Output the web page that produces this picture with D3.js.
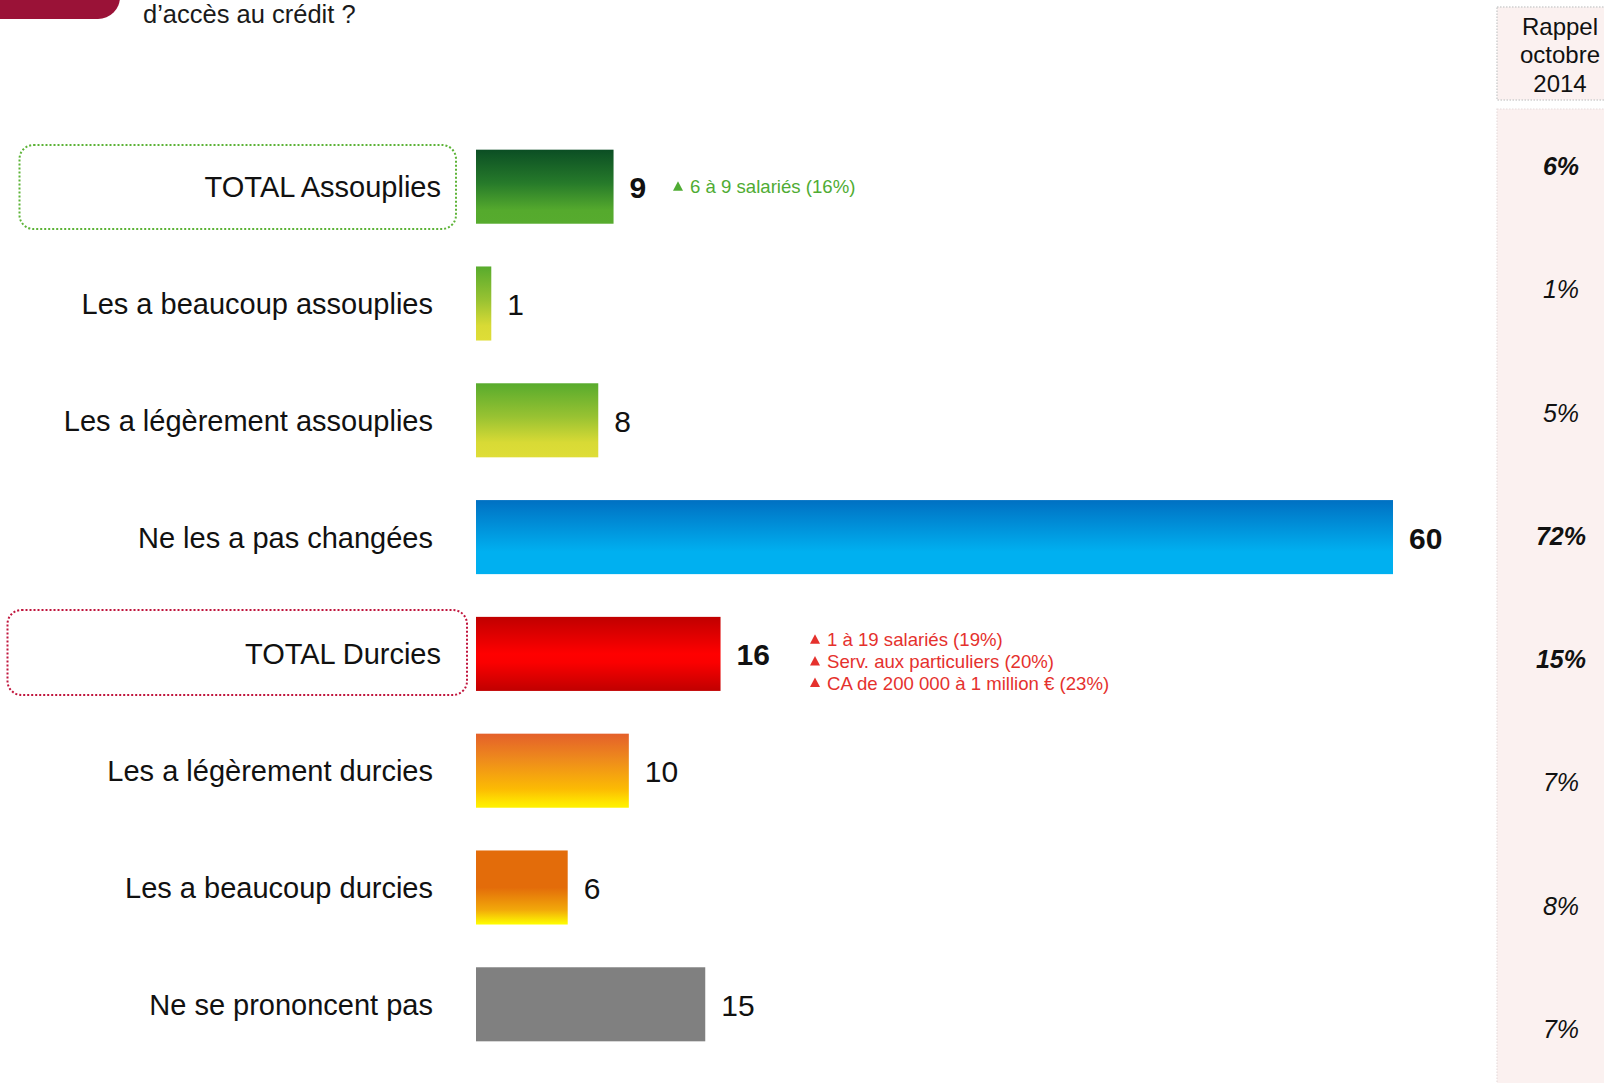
<!DOCTYPE html>
<html>
<head>
<meta charset="utf-8">
<script src="https://cdn.jsdelivr.net/npm/d3@7"></script>
<style>
  html, body { margin: 0; padding: 0; background: #ffffff; }
  svg { display: block; font-family: Arial, "Liberation Sans", sans-serif; }
</style>
</head>
<body>
<svg id="chart" width="1604" height="1083"></svg>
<script>
// Survey answers (%)
const categories = [
  "TOTAL Assouplies",
  "Les a beaucoup assouplies",
  "Les a légèrement assouplies",
  "Ne les a pas changées",
  "TOTAL Durcies",
  "Les a légèrement durcies",
  "Les a beaucoup durcies",
  "Ne se prononcent pas"
];
const values = [9, 1, 8, 60, 16, 10, 6, 15];
// Previous wave, October 2014 (%)
const rappelValues = [6, 1, 5, 72, 15, 7, 8, 7];
// Rows shown in bold (totals and majority answer)
const boldValueRows = [0, 3, 4];
const boldRappelRows = [0, 3, 4];
const totalRows = [0, 4];

// Sub-group highlights
const greenNotes = ["6 à 9 salariés (16%)"];
const redNotes = [
  "1 à 19 salariés (19%)",
  "Serv. aux particuliers (20%)",
  "CA de 200 000 à 1 million € (23%)"
];
const rappelHeader = ["Rappel", "octobre", "2014"];

// Vertical gradient stops for each bar
const barGradients = [
  [[0, "#0b4e24"], [0.45, "#267a2a"], [0.82, "#55aa2d"], [1, "#57ab2e"]],
  [[0, "#58ab2d"], [0.45, "#98c232"], [0.8, "#d8da35"], [1, "#dfdd37"]],
  [[0, "#58ab2d"], [0.45, "#98c232"], [0.8, "#d8da35"], [1, "#dfdd37"]],
  [[0, "#0070c2"], [0.7, "#00b0f0"], [1, "#00b0f0"]],
  [[0, "#c00000"], [0.5, "#ff0000"], [0.62, "#fa0000"], [1, "#c00000"]],
  [[0, "#e4602a"], [0.35, "#ee8b1c"], [0.75, "#fcbb03"], [0.93, "#ffe600"], [1, "#fff200"]],
  [[0, "#e36c0a"], [0.5, "#e36c0a"], [0.8, "#f2a80a"], [1, "#ffff00"]],
  [[0, "#808080"], [1, "#808080"]]
];

const svg = d3.select("#chart");
const defs = svg.append("defs");

barGradients.forEach((stops, i) => {
  const g = defs.append("linearGradient")
    .attr("id", "grad" + i)
    .attr("x1", 0).attr("y1", 0).attr("x2", 0).attr("y2", 1);
  stops.forEach(s => g.append("stop").attr("offset", s[0]).attr("stop-color", s[1]));
});

// Scales
const x = d3.scaleLinear().domain([0, 60]).range([476, 1393]);
const y = d3.scaleBand()
  .domain(categories)
  .range([128.3, 1062.7])
  .paddingInner(0.366)
  .paddingOuter(0.183);
const yRappel = d3.scalePoint().domain(categories).range([166, 1029]);

// Header tab and question tail
svg.append("rect")
  .attr("x", -40).attr("y", -60)
  .attr("width", 160).attr("height", 79)
  .attr("rx", 22).attr("ry", 22)
  .attr("fill", "#9a1237");

svg.append("text")
  .attr("x", 143).attr("y", 23)
  .attr("font-size", 25.5)
  .attr("fill", "#1a1a1a")
  .text("d’accès au crédit ?");

// Rappel column background
svg.append("rect")
  .attr("x", 1497).attr("y", 7)
  .attr("width", 130).attr("height", 93)
  .attr("fill", "#fbf1f0")
  .attr("stroke", "#cfcfcf")
  .attr("stroke-width", 1.5)
  .attr("stroke-dasharray", "1.5,1.5");

svg.append("rect")
  .attr("x", 1497).attr("y", 109)
  .attr("width", 130).attr("height", 1000)
  .attr("fill", "#fbf1f0")
  .attr("stroke", "#e6dcdc")
  .attr("stroke-width", 1.2)
  .attr("stroke-dasharray", "1.5,1.5");

svg.append("g").selectAll("text")
  .data(rappelHeader)
  .join("text")
  .attr("x", 1560)
  .attr("y", (d, i) => 35 + i * 28.4)
  .attr("text-anchor", "middle")
  .attr("font-size", 24)
  .attr("fill", "#111")
  .text(d => d);

svg.append("g").selectAll("text")
  .data(categories)
  .join("text")
  .attr("x", 1561)
  .attr("y", d => yRappel(d) + 9)
  .attr("text-anchor", "middle")
  .attr("font-size", 25)
  .attr("font-style", "italic")
  .attr("font-weight", (d, i) => boldRappelRows.includes(i) ? "bold" : "normal")
  .attr("fill", "#111")
  .text((d, i) => rappelValues[i] + "%");

// Dotted frames around total rows
const frames = [
  { row: 0, x0: 19.5, x1: 456, top: 145, bottom: 229, color: "#5cb337" },
  { row: 4, x0: 7.5, x1: 467, top: 610, bottom: 695, color: "#c0143c" }
];
svg.append("g").selectAll("rect")
  .data(frames)
  .join("rect")
  .attr("x", d => d.x0)
  .attr("y", d => d.top)
  .attr("width", d => d.x1 - d.x0)
  .attr("height", d => d.bottom - d.top)
  .attr("rx", 14).attr("ry", 14)
  .attr("fill", "none")
  .attr("stroke", d => d.color)
  .attr("stroke-width", 2)
  .attr("stroke-dasharray", "2,2");

// Category labels
svg.append("g").selectAll("text")
  .data(categories)
  .join("text")
  .attr("x", (d, i) => totalRows.includes(i) ? 441 : 433)
  .attr("y", d => y(d) + y.bandwidth() / 2 + 10.5)
  .attr("text-anchor", "end")
  .attr("font-size", 29)
  .attr("fill", "#111")
  .text(d => d);

// Bars
svg.append("g").selectAll("rect")
  .data(categories)
  .join("rect")
  .attr("x", x(0))
  .attr("y", d => y(d))
  .attr("width", (d, i) => x(values[i]) - x(0))
  .attr("height", y.bandwidth())
  .attr("fill", (d, i) => `url(#grad${i})`);

// Value labels
svg.append("g").selectAll("text")
  .data(categories)
  .join("text")
  .attr("x", (d, i) => x(values[i]) + 16)
  .attr("y", d => y(d) + y.bandwidth() / 2 + 11.5)
  .attr("font-size", 30)
  .attr("font-weight", (d, i) => boldValueRows.includes(i) ? "bold" : "normal")
  .attr("fill", "#111")
  .text((d, i) => values[i]);

// Sub-group notes with up-triangles
function notes(lines, rowIndex, textX, firstDy, lineGap, color) {
  const cy = y(categories[rowIndex]) + y.bandwidth() / 2;
  const g = svg.append("g");
  lines.forEach((t, k) => {
    const base = cy + firstDy + k * lineGap;
    g.append("path")
      .attr("d", `M${textX - 17},${base - 2.5} L${textX - 7},${base - 2.5} L${textX - 12},${base - 12} Z`)
      .attr("fill", color);
    g.append("text")
      .attr("x", textX).attr("y", base)
      .attr("font-size", 18.6)
      .attr("fill", color)
      .text(t);
  });
}
notes(greenNotes, 0, 690, 6.5, 21.7, "#4fac33");
notes(redNotes, 4, 827, -7.7, 21.7, "#e5312d");
</script>
</body>
</html>
